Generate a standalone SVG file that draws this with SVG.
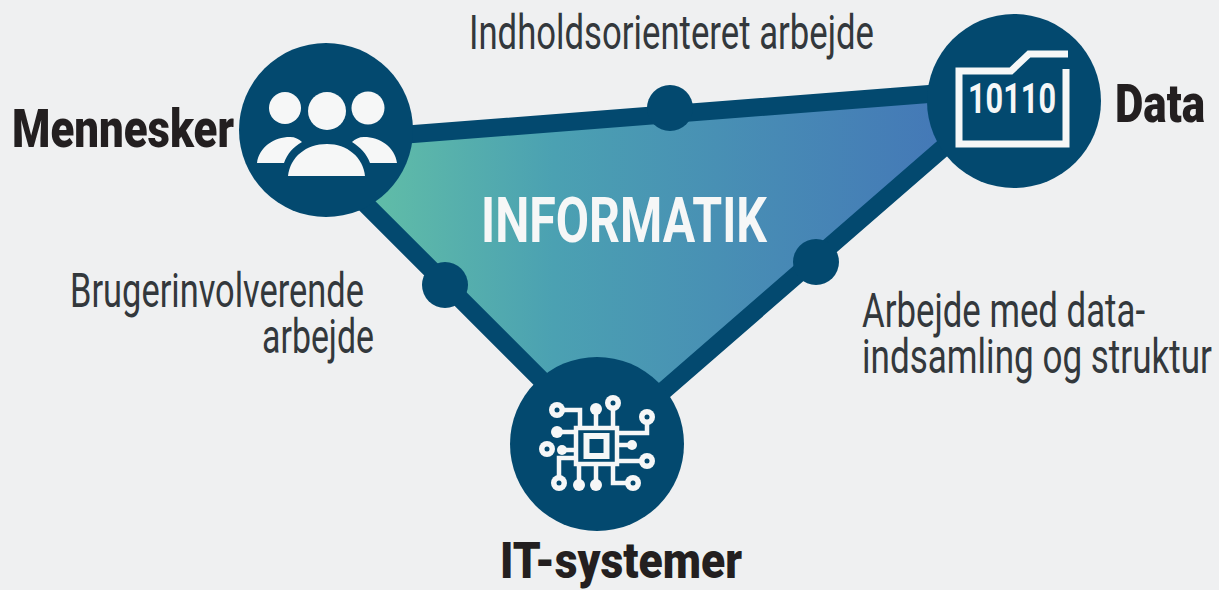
<svg xmlns="http://www.w3.org/2000/svg" width="1219" height="590" viewBox="0 0 1219 590">
<style>
.hub{fill:#03496f}
.tri{stroke:#03496f;stroke-width:18;stroke-linejoin:miter}
.ic{fill:#f6f7f7}
.ln{fill:none;stroke:#f6f7f7;stroke-width:4.5}
.pin{fill:#03496f}
.b{font-family:"Roboto","Liberation Sans",sans-serif;font-weight:900;fill:#231f20;font-size:42px}
.r{font-family:"Roboto","Liberation Sans",sans-serif;font-weight:400;fill:#33383c;font-size:36px}
.w{font-family:"Roboto","Liberation Sans",sans-serif;font-weight:700;fill:#f6f7f7}
</style>
<defs>
<linearGradient id="g" gradientUnits="userSpaceOnUse" x1="385" y1="0" x2="945" y2="0">
<stop offset="0" stop-color="#5fbba8"/><stop offset="0.3" stop-color="#4ba1b2"/><stop offset="1" stop-color="#4478b7"/>
</linearGradient>
</defs>
<rect width="1219" height="590" fill="#eff0f1"/>
<g id="connectors">
<polygon class="tri" points="304,142.5 1012.5,87.5 604,442.5" fill="url(#g)"/>
</g>
<g id="dot-top"><circle class="hub" cx="670" cy="108" r="23"/></g>
<g id="dot-left"><circle class="hub" cx="445" cy="285" r="23"/></g>
<g id="dot-right"><circle class="hub" cx="816" cy="262" r="23"/></g>
<g id="mennesker">
<circle class="hub" cx="326" cy="130" r="87"/>
<circle class="ic" cx="285" cy="108" r="16"/>
<circle class="ic" cx="327" cy="111" r="19"/>
<circle class="ic" cx="368" cy="108" r="16.5"/>
<path class="ic" d="M257,163C259,147 274,137 290,137C295,137 299,139 302,142C293,147 287,154 284,163Z"/>
<path class="ic" d="M397,163C395,147 380,137 364,137C359,137 355,139 352,142C360,147 367,154 370,163Z"/>
<path class="ic" d="M288,176C290,157 306,144 327,144C347,144 363,157 365,176Z"/>
<text class="b" transform="translate(12 147) scale(1 1.27)" textLength="222" lengthAdjust="spacingAndGlyphs">Mennesker</text>
</g>
<g id="data">
<circle class="hub" cx="1014" cy="101" r="87"/>
<path d="M1066,69V144H959V71H1011L1029,54H1068" fill="none" stroke="#f6f7f7" stroke-width="7"/>
<text class="w" transform="translate(968 113) scale(1 1.35)" font-size="31" textLength="88" lengthAdjust="spacingAndGlyphs">10110</text>
<text class="b" transform="translate(1115 122) scale(1 1.27)" textLength="90" lengthAdjust="spacingAndGlyphs">Data</text>
</g>
<g id="it-systemer">
<circle class="hub" cx="597" cy="444" r="87"/>
<rect class="ln" x="576" y="428" width="41" height="36"/>
<rect class="ln" x="586.5" y="436" width="20" height="20" style="stroke-width:6"/>
<path class="ln" d="M557,410H580V428M596,409V428M613,403V428M647,417V433H617M617,445H632M617,461H647M557,432H576M562,450H576M559,483V458H576M579,485V464M596,485V464M613,464V483H633"/>
<g class="ic">
<circle cx="557" cy="410" r="8"/><circle cx="596" cy="409" r="6"/><circle cx="613" cy="403" r="8"/><circle cx="647" cy="417" r="8"/>
<circle cx="557" cy="432" r="6"/><circle cx="547" cy="449" r="8"/><circle cx="562" cy="450" r="5"/>
<circle cx="632" cy="445" r="5"/><circle cx="647" cy="461" r="8"/>
<circle cx="559" cy="483" r="8"/><circle cx="579" cy="485" r="6"/><circle cx="596" cy="485" r="6"/><circle cx="633" cy="483" r="8"/>
</g>
<g class="pin">
<circle cx="557" cy="410" r="2.5"/><circle cx="613" cy="403" r="2.5"/><circle cx="647" cy="417" r="2.5"/><circle cx="547" cy="449" r="2.5"/><circle cx="647" cy="461" r="2.5"/><circle cx="559" cy="483" r="2.5"/><circle cx="633" cy="483" r="2.5"/>
</g>
<text class="b" transform="translate(500 578) scale(1 1.2)" textLength="242" lengthAdjust="spacingAndGlyphs">IT-systemer</text>
</g>
<text class="w" transform="translate(481 242) scale(1 1.31)" font-size="48" textLength="286" lengthAdjust="spacingAndGlyphs">INFORMATIK</text>
<text class="r" transform="translate(469 49) scale(1 1.35)" textLength="405" lengthAdjust="spacingAndGlyphs">Indholdsorienteret arbejde</text>
<text class="r" transform="translate(70 307) scale(1 1.35)" textLength="294" lengthAdjust="spacingAndGlyphs">Brugerinvolverende</text>
<text class="r" transform="translate(262 353) scale(1 1.35)" textLength="112" lengthAdjust="spacingAndGlyphs">arbejde</text>
<text class="r" transform="translate(862 327) scale(1 1.35)" textLength="283" lengthAdjust="spacingAndGlyphs">Arbejde med data-</text>
<text class="r" transform="translate(862 373) scale(1 1.35)" textLength="350" lengthAdjust="spacingAndGlyphs">indsamling og struktur</text>
</svg>
